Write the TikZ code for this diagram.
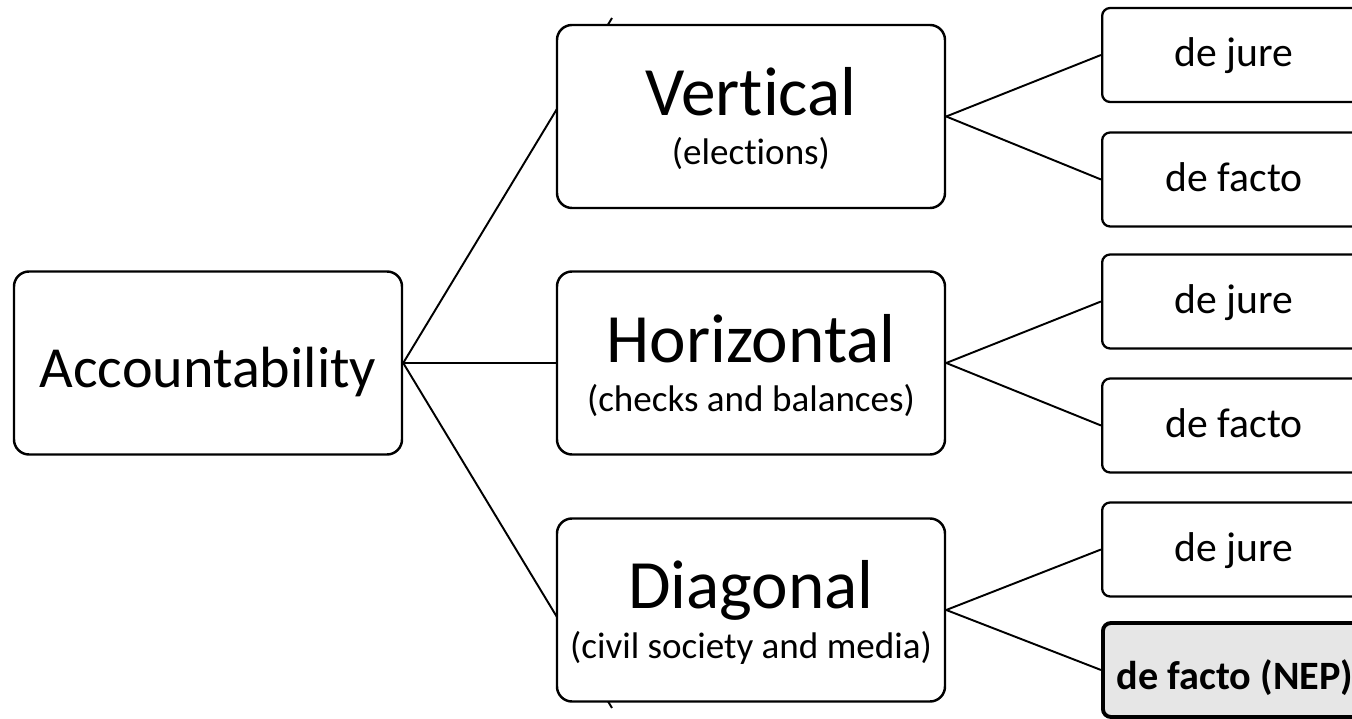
\documentclass[tikz,border=0pt]{standalone}
\usepackage{fontspec}
\setmainfont{Carlito}[Ligatures=NoCommon]
\usepackage{tikz}
\usetikzlibrary{positioning}
\definecolor{BoxBorder}{RGB}{0,0,0}
\definecolor{EdgeColor}{RGB}{0,0,0}
\definecolor{NepFill}{RGB}{230,230,230}
\tikzset{
  % Root box
  rootbox/.style={
    rounded corners=0.3cm,
    draw=BoxBorder,
    fill=white,
    line width=1.4pt,
    minimum width=7.76cm,
    minimum height=3.66cm,
    inner sep=0pt,
    text height=1.1cm,
    text depth=0.12cm,
    font=\fontsize{33.1}{40}\selectfont
  },
  % Category box (title + subtitle)
  catbox/.style={
    rounded corners=0.3cm,
    draw=BoxBorder,
    fill=white,
    line width=1.4pt,
    minimum width=7.76cm,
    minimum height=3.66cm,
    inner sep=0pt,
    align=center,
    font=\fontsize{21.1}{27.9}\selectfont
  },
  % Small leaf box
  leafbox/.style={
    rounded corners=0.16cm,
    draw=BoxBorder,
    fill=white,
    line width=1.3pt,
    minimum width=5.28cm,
    minimum height=1.88cm,
    inner sep=0pt,
    anchor=west,
    text height=0.62cm,
    text depth=0.14cm,
    font=\fontsize{23.7}{28}\selectfont
  },
  % Highlighted leaf box
  nepbox/.style={
    leafbox,
    fill=NepFill,
    line width=2.2pt,
    text height=0.95cm,
    text depth=0.15cm,
    font=\fontsize{22.9}{27}\selectfont\bfseries
  },
  % Standard edge
  edge/.style={
    draw=EdgeColor,
    line width=1.1pt
  }
}
\newcommand{\cattitle}[2]{{\fontsize{39.4}{42}\selectfont\rule{0pt}{1.06cm}#1}\\#2}

\begin{document}
\begin{tikzpicture}
  \useasboundingbox (0,0) rectangle (27.04,14.38);
  \clip (0,0) rectangle (27.04,14.38);
  % Root
  \node[rootbox] (acc) at (4.16,7.12) {Accountability};
  % Long connectors, covered by the boxes
  \coordinate (topend) at (12.24,14.02);
  \coordinate (botend) at (12.24,0.22);
  \draw[edge] (acc.east) -- (topend);
  \draw[edge] (acc.east) -- (botend);
  % Categories
  \node[catbox] (vert) at (15.02,12.05) {\cattitle{Vertical}{(elections)}};
  \node[catbox] (horz) at (15.02,7.12) {\cattitle{Horizontal}{(checks and balances)}};
  \node[catbox] (diag) at (15.02,2.18) {\cattitle{Diagonal}{(civil society and media)}};
  \draw[edge] (acc.east) -- (horz.west);
  % Leaves
  \foreach \name/\y/\txt in {vjure/13.28/de jure, vfacto/10.79/de facto,
                             hjure/8.35/de jure, hfacto/5.87/de facto,
                             djure/3.39/de jure} {
    \node[leafbox] (\name) at (22.02,\y) {\txt};
  }
  \node[nepbox] (dfacto) at (22.02,0.98) {de facto (NEP)};
  % Leaf edges
  \foreach \a/\b in {vert/vjure, vert/vfacto, horz/hjure, horz/hfacto,
                     diag/djure, diag/dfacto} {
    \draw[edge] (\a.east) -- (\b.west);
  }
\end{tikzpicture}
\end{document}
